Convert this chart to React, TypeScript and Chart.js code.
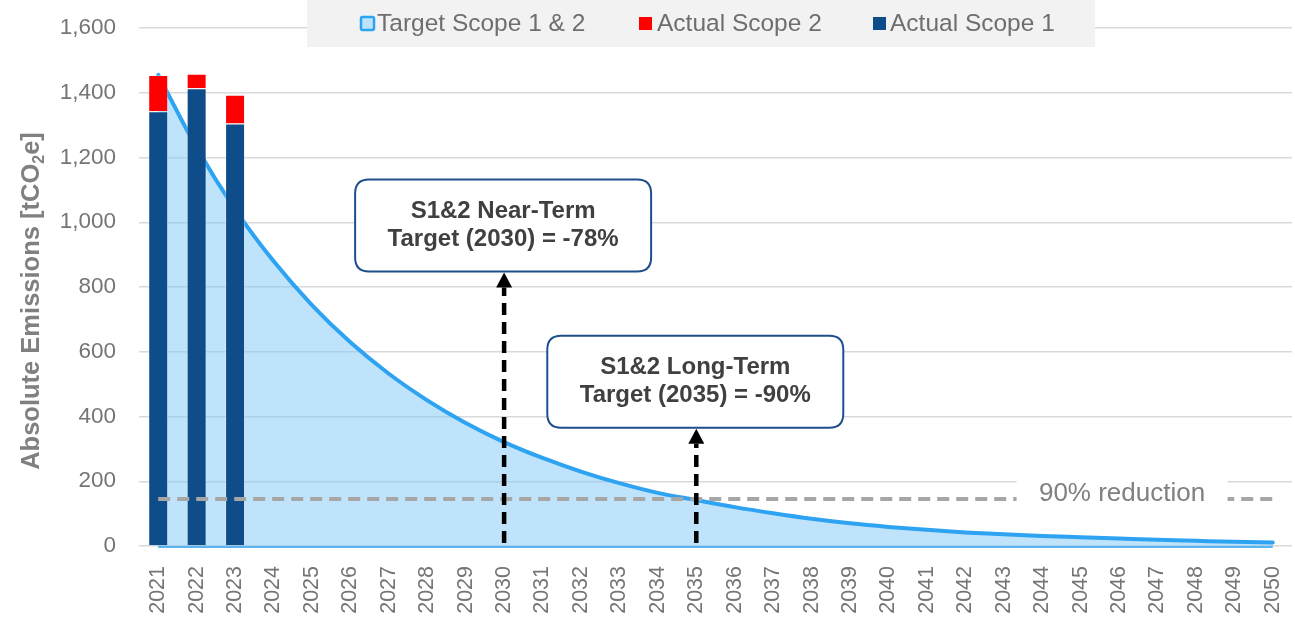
import React, { useEffect, useRef } from 'react';
import { Chart, registerables } from 'chart.js';

Chart.register(...registerables);

const FONT = '"Liberation Sans", Arial, Helvetica, sans-serif';

const years = [
  '2021', '2022', '2023', '2024', '2025', '2026', '2027', '2028', '2029', '2030',
  '2031', '2032', '2033', '2034', '2035', '2036', '2037', '2038', '2039', '2040',
  '2041', '2042', '2043', '2044', '2045', '2046', '2047', '2048', '2049', '2050',
];
const targetScope12 = [
  1455, 1230, 1040, 880, 744, 629, 532, 450, 380, 321,
  272, 230, 194, 164, 142, 120, 101, 84, 70, 59,
  50, 42, 36, 31, 27, 23, 19, 16, 13, 11,
];
const actualScope1 = [1343, 1414, 1305];
const actualScope2 = [112, 45, 89];
const yTickValues = [0, 200, 400, 600, 800, 1000, 1200, 1400, 1600];

const reductionLevel = 145;
const reductionLabel = '90% reduction';
const reductionLabelYear = '2046';

const targetYears = ['2030', '2035'];
const targetArrowTops = [845, 362];
const targetLines = [
  ['S1&2 Near-Term', 'Target (2030) = -78%'],
  ['S1&2 Long-Term', 'Target (2035) = -90%'],
];

const legendLabels = ['Target Scope 1 & 2', 'Actual Scope 2', 'Actual Scope 1'];
const yTitleParts = ['Absolute Emissions [tCO', '2', 'e]'];

const COLORS = {
  line: '#2EA3F2',
  fill: 'rgba(125,200,245,0.5)',
  legendFill: '#BDE3FA',
  scope2: '#FF0000',
  scope1: '#0F4C8A',
  grid: '#D9D9D9',
  tick: '#757575',
  dashed: '#A6A6A6',
  boxBorder: '#1F4E8C',
  boxText: '#404040',
};

function fmt(v: number): string {
  return String(v).replace(/\B(?=(\d{3})+(?!\d))/g, ',');
}

function roundRect(ctx: CanvasRenderingContext2D, x: number, y: number, w: number, h: number, r: number) {
  ctx.beginPath();
  ctx.moveTo(x + r, y);
  ctx.lineTo(x + w - r, y);
  ctx.quadraticCurveTo(x + w, y, x + w, y + r);
  ctx.lineTo(x + w, y + h - r);
  ctx.quadraticCurveTo(x + w, y + h, x + w - r, y + h);
  ctx.lineTo(x + r, y + h);
  ctx.quadraticCurveTo(x, y + h, x, y + h - r);
  ctx.lineTo(x, y + r);
  ctx.quadraticCurveTo(x, y, x + r, y);
  ctx.closePath();
}

const overlayPlugin = {
  id: 'overlay',
  beforeDatasetsDraw(chart: any) {
    const { ctx } = chart;
    const x = chart.scales.x;
    const y = chart.scales.y;
    ctx.save();
    ctx.strokeStyle = '#5AB4F2';
    ctx.lineWidth = 2;
    const y0 = y.getPixelForValue(0) + 1;
    ctx.beginPath();
    ctx.moveTo(x.getPixelForValue(0), y0);
    ctx.lineTo(x.getPixelForValue(years.length - 1), y0);
    ctx.stroke();
    ctx.restore();
  },
  afterDatasetsDraw(chart: any) {
    const { ctx } = chart;
    const x = chart.scales.x;
    const y = chart.scales.y;
    ctx.save();

    // 90% reduction dashed line
    const ry = y.getPixelForValue(reductionLevel);
    ctx.strokeStyle = COLORS.dashed;
    ctx.lineWidth = 4;
    ctx.setLineDash([12, 7]);
    ctx.beginPath();
    ctx.moveTo(x.getPixelForValue(0), ry);
    ctx.lineTo(x.getPixelForValue(years.length - 1), ry);
    ctx.stroke();
    ctx.setLineDash([]);

    // label with white background
    const lx = x.getPixelForValue(years.indexOf(reductionLabelYear)) + 3;
    ctx.fillStyle = '#FFFFFF';
    ctx.fillRect(lx - 105.5, ry - 30, 211, 44);
    ctx.font = `26px ${FONT}`;
    ctx.fillStyle = '#808080';
    ctx.textAlign = 'center';
    ctx.textBaseline = 'middle';
    ctx.fillText(reductionLabel, lx, ry - 5);

    // arrows + callout boxes
    targetYears.forEach((yr, i) => {
      const idx = years.indexOf(yr);
      const px = x.getPixelForValue(idx);
      const tip = y.getPixelForValue(targetArrowTops[i]);
      const base = y.getPixelForValue(0) - 3;
      const headLen = 15;
      const headW = 16;
      ctx.strokeStyle = '#000000';
      ctx.lineWidth = 4.5;
      ctx.setLineDash([12, 7]);
      ctx.beginPath();
      ctx.moveTo(px, base);
      ctx.lineTo(px, tip + headLen);
      ctx.stroke();
      ctx.setLineDash([]);
      ctx.fillStyle = '#000000';
      ctx.beginPath();
      ctx.moveTo(px, tip);
      ctx.lineTo(px - headW / 2, tip + headLen);
      ctx.lineTo(px + headW / 2, tip + headLen);
      ctx.closePath();
      ctx.fill();

      const bw = 296;
      const bh = 92;
      const bx = px - bw / 2 - 1;
      const by = tip - 1 - bh;
      roundRect(ctx, bx, by, bw, bh, 14);
      ctx.fillStyle = '#FFFFFF';
      ctx.fill();
      ctx.strokeStyle = COLORS.boxBorder;
      ctx.lineWidth = 2;
      ctx.stroke();
      ctx.fillStyle = COLORS.boxText;
      ctx.font = `bold 24px ${FONT}`;
      ctx.textAlign = 'center';
      ctx.textBaseline = 'middle';
      ctx.fillText(targetLines[i][0], bx + bw / 2, by + 32);
      ctx.fillText(targetLines[i][1], bx + bw / 2, by + 60);
    });
    ctx.restore();
  },
  afterDraw(chart: any) {
    const { ctx } = chart;
    ctx.save();
    // legend
    ctx.fillStyle = '#F2F2F2';
    ctx.fillRect(307, 0, 788, 47);
    ctx.fillStyle = COLORS.legendFill;
    ctx.fillRect(361, 17, 13, 13);
    ctx.strokeStyle = COLORS.line;
    ctx.lineWidth = 2.5;
    roundRect(ctx, 361, 17, 13, 13, 1.5);
    ctx.stroke();
    ctx.fillStyle = COLORS.scope2;
    ctx.fillRect(639, 17, 13, 13);
    ctx.fillStyle = COLORS.scope1;
    ctx.fillRect(873, 17, 13, 13);
    ctx.font = `24.5px ${FONT}`;
    ctx.fillStyle = '#6E6E6E';
    ctx.textAlign = 'left';
    ctx.textBaseline = 'middle';
    ctx.fillText(legendLabels[0], 377, 24);
    ctx.fillText(legendLabels[1], 657, 24);
    ctx.fillText(legendLabels[2], 890, 24);

    // y axis title with subscript
    ctx.translate(39, 301);
    ctx.rotate(-Math.PI / 2);
    ctx.fillStyle = '#808080';
    ctx.textBaseline = 'alphabetic';
    ctx.textAlign = 'left';
    const mainFont = `bold 25.5px ${FONT}`;
    const subFont = `bold 16px ${FONT}`;
    ctx.font = mainFont;
    const w0 = ctx.measureText(yTitleParts[0]).width;
    const w2 = ctx.measureText(yTitleParts[2]).width;
    ctx.font = subFont;
    const w1 = ctx.measureText(yTitleParts[1]).width;
    let cx = -(w0 + w1 + w2) / 2;
    ctx.font = mainFont;
    ctx.fillText(yTitleParts[0], cx, 0);
    cx += w0;
    ctx.font = subFont;
    ctx.fillText(yTitleParts[1], cx, 5);
    cx += w1;
    ctx.font = mainFont;
    ctx.fillText(yTitleParts[2], cx, 0);
    ctx.restore();
  },
};

export default function App() {
  const canvasRef = useRef<HTMLCanvasElement | null>(null);

  useEffect(() => {
    if (!canvasRef.current) return;
    Chart.defaults.font.family = FONT;
    const chart = new Chart(canvasRef.current, {
      type: 'bar',
      data: {
        labels: years,
        datasets: [
          {
            type: 'line',
            label: legendLabels[0],
            data: targetScope12,
            borderColor: COLORS.line,
            backgroundColor: COLORS.fill,
            borderWidth: 4,
            fill: 'origin',
            pointRadius: 0,
            cubicInterpolationMode: 'monotone',
            borderCapStyle: 'round',
            stack: 'target',
            order: 3,
          } as any,
          {
            type: 'bar',
            label: legendLabels[2],
            data: actualScope1,
            backgroundColor: COLORS.scope1,
            borderColor: 'rgba(255,255,255,0.3)',
            borderWidth: 1,
            stack: 'actual',
            order: 1,
          },
          {
            type: 'bar',
            label: legendLabels[1],
            data: actualScope2,
            backgroundColor: COLORS.scope2,
            borderColor: 'rgba(255,255,255,0.3)',
            borderWidth: 1,
            stack: 'actual',
            order: 1,
          },
        ],
      },
      options: {
        animation: false,
        responsive: true,
        maintainAspectRatio: false,
        layout: { padding: { left: 0, right: 3, top: 28, bottom: 0 } },
        datasets: { bar: { categoryPercentage: 1, barPercentage: 0.52 } },
        plugins: {
          legend: { display: false },
          tooltip: { enabled: false },
        },
        scales: {
          x: {
            stacked: true,
            offset: true,
            grid: { display: false, drawTicks: false, tickLength: 0 },
            border: { display: false },
            ticks: {
              autoSkip: false,
              minRotation: 90,
              maxRotation: 90,
              padding: 20,
              color: COLORS.tick,
              font: { size: 21.5, family: FONT },
            },
            afterFit(scale: any) {
              scale.height = 71;
              scale.paddingLeft = 0;
              scale.paddingRight = 0;
            },
          },
          y: {
            stacked: true,
            min: 0,
            max: 1600,
            afterBuildTicks(scale: any) {
              scale.ticks = yTickValues.map((v) => ({ value: v }));
            },
            grid: { color: COLORS.grid, lineWidth: 1.5, drawTicks: false, tickLength: 0 },
            border: { display: false },
            ticks: {
              padding: 23,
              color: COLORS.tick,
              font: { size: 22.5, family: FONT },
              callback: (v: any) => fmt(Number(v)),
            },
            afterFit(scale: any) {
              scale.width = 139;
              scale.paddingTop = 0;
              scale.paddingBottom = 0;
            },
          },
        },
      } as any,
      plugins: [overlayPlugin],
    });
    return () => chart.destroy();
  }, []);

  return (
    <div style={{ position: 'fixed', left: 0, top: 0, width: 1295, height: 617, background: '#FFFFFF' }}>
      <canvas ref={canvasRef} />
    </div>
  );
}
